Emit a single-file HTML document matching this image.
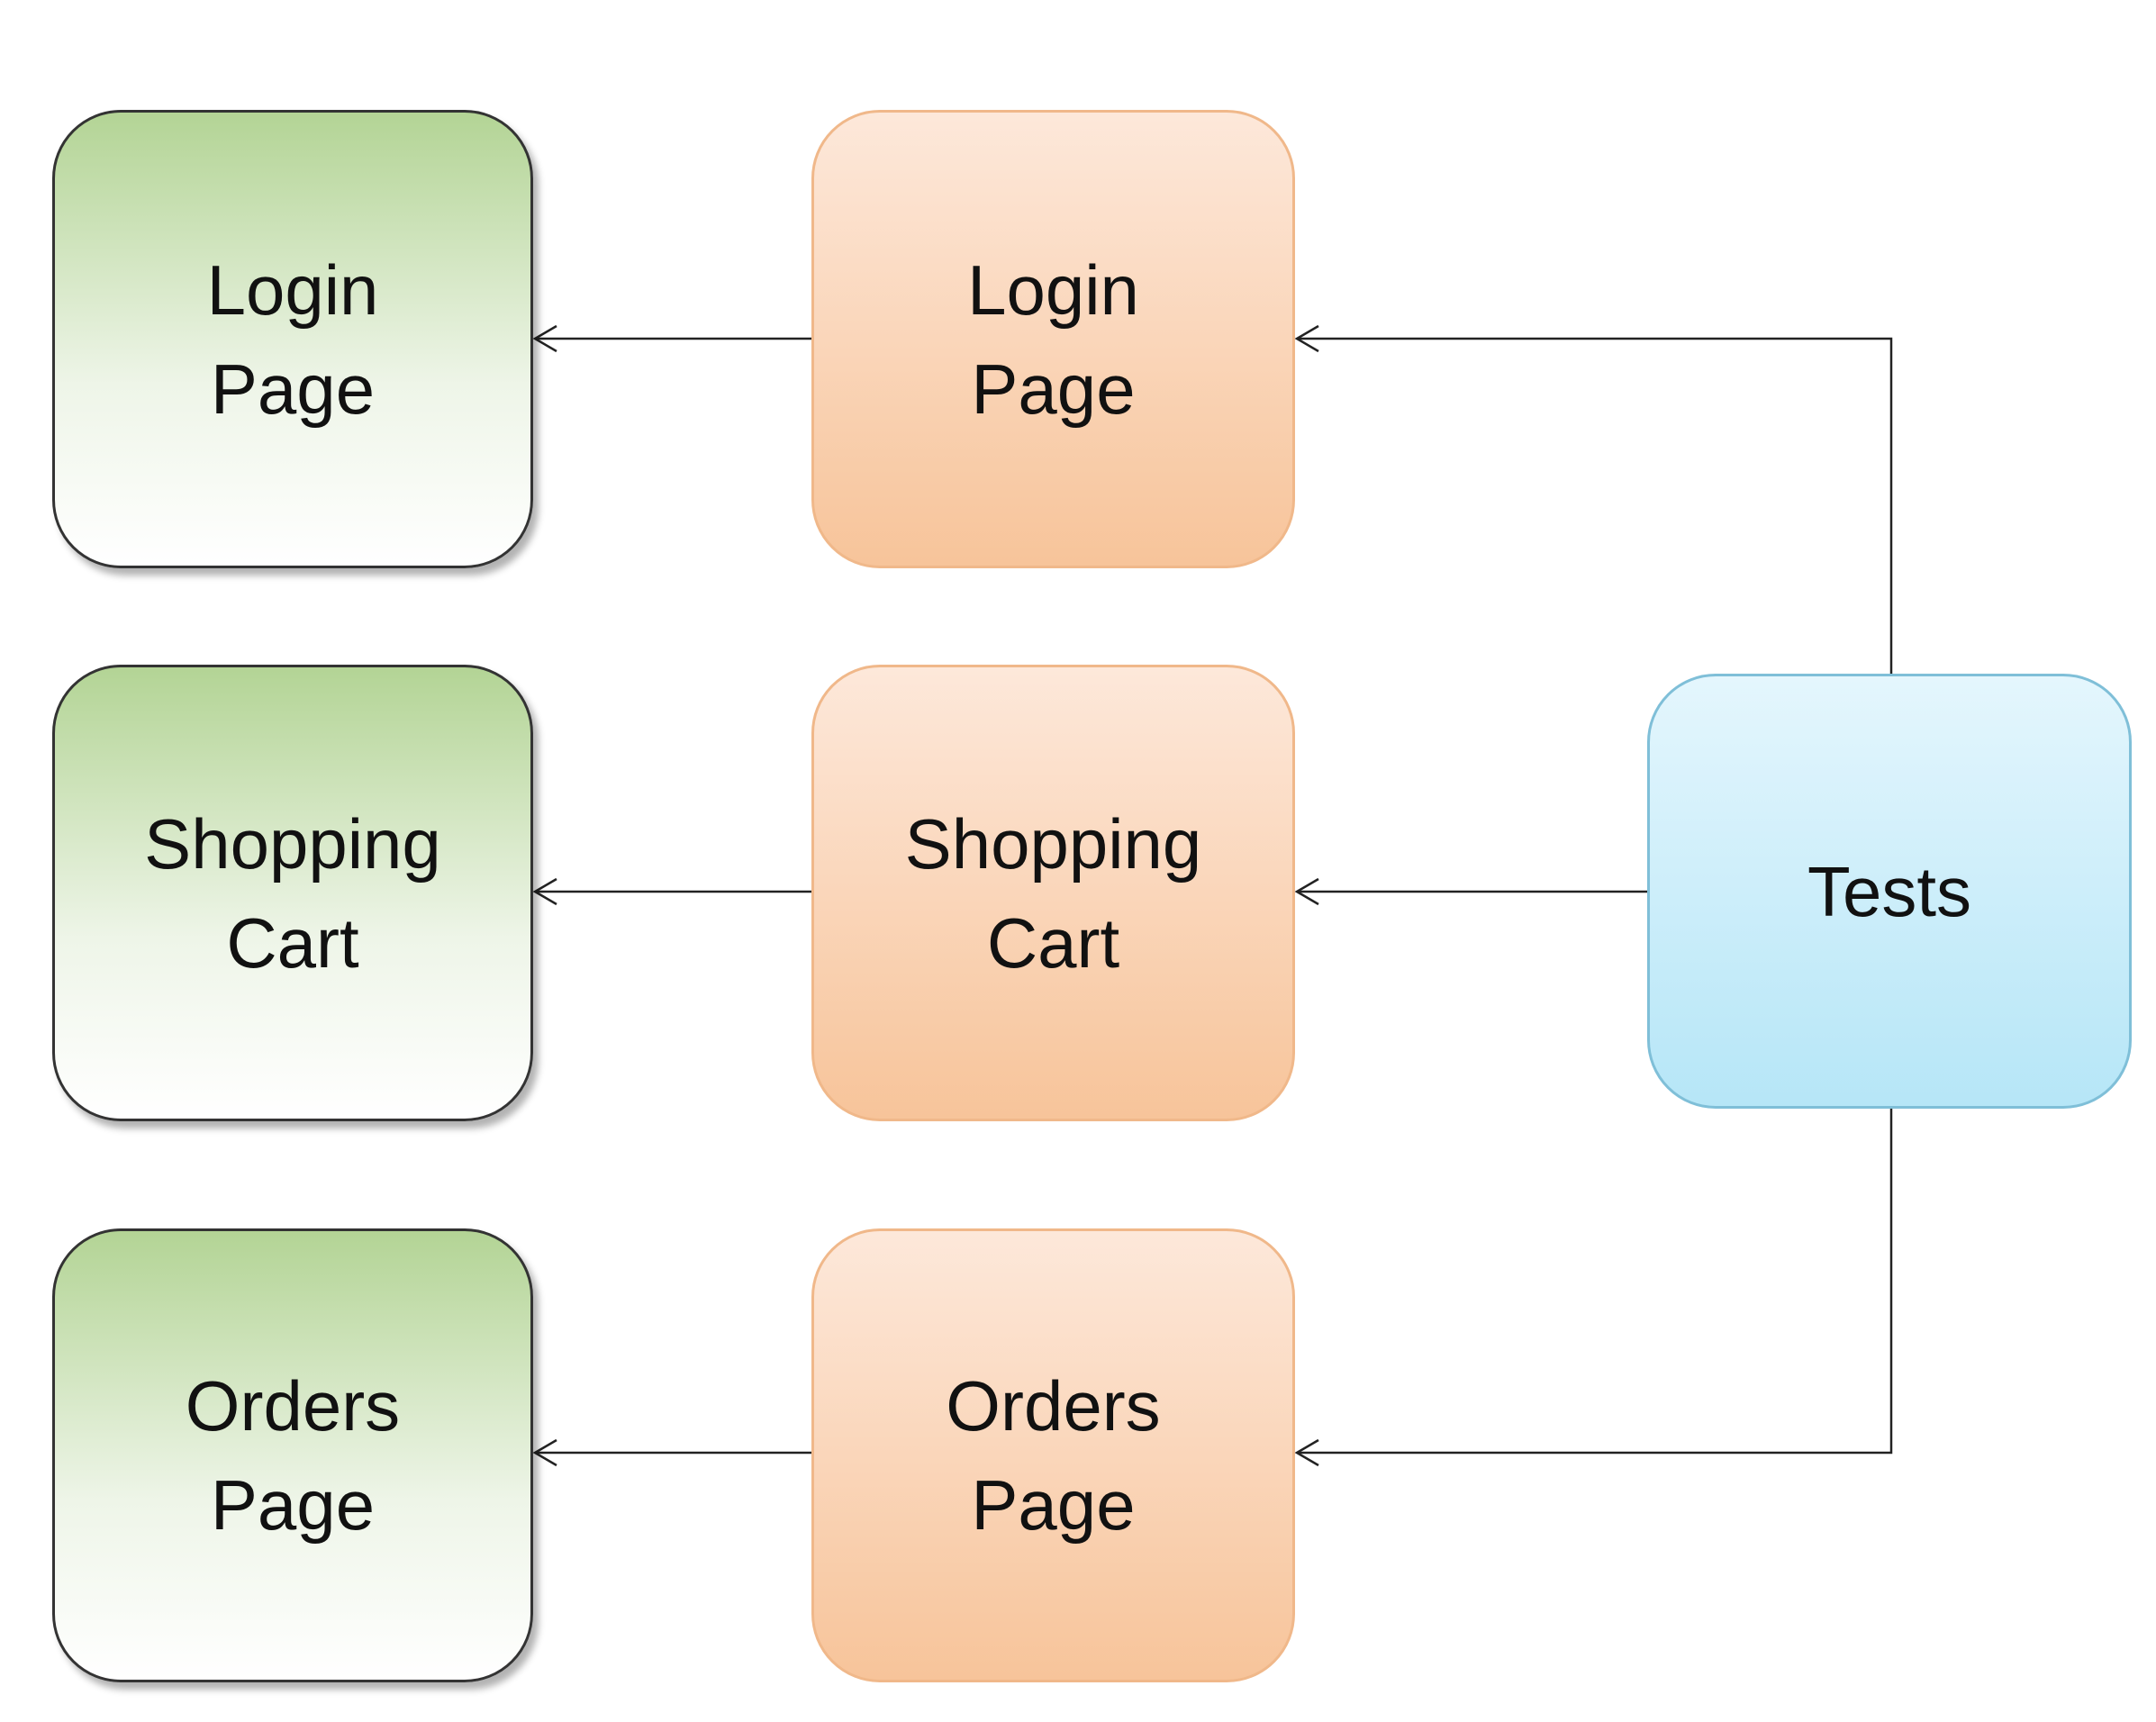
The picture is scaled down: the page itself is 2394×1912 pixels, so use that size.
<!DOCTYPE html>
<html><head><style>
body{margin:0;width:2394px;height:1912px;background:#fff;position:relative;overflow:hidden;font-family:"Liberation Sans",sans-serif;}
.b{position:absolute;border-radius:76px;display:flex;align-items:center;justify-content:center;text-align:center;font-size:78px;line-height:110px;color:#111;box-sizing:border-box;}
.g{left:58px;width:534px;border:3px solid #333;background:linear-gradient(#b3d495,#eef5e8 60%,#fff);box-shadow:6px 8px 8px rgba(0,0,0,.3);}
.o{left:901px;width:537px;border:3px solid #f0b88a;background:linear-gradient(#fde8da,#f7c49a);}
.t{left:1829px;top:748px;width:538px;height:483px;border:3px solid #7fbfd8;background:linear-gradient(#e4f6fd,#b6e6f7);}
</style></head><body>
<svg width="2394" height="1912" style="position:absolute;left:0;top:0">
<g stroke="#222" stroke-width="2.5" fill="none">
<path d="M901 376H594M901 990H594M901 1613H594"/>
<path d="M1829 990H1440M2100 748V376H1440M2100 1231V1613H1440"/>
<path d="M618 362L594 376L618 390M618 976L594 990L618 1004M618 1599L594 1613L618 1627"/>
<path d="M1464 362L1440 376L1464 390M1464 976L1440 990L1464 1004M1464 1599L1440 1613L1464 1627"/>
</g></svg>
<div class="b g" style="top:122px;height:509px">Login<br>Page</div>
<div class="b g" style="top:738px;height:507px">Shopping<br>Cart</div>
<div class="b g" style="top:1364px;height:504px">Orders<br>Page</div>
<div class="b o" style="top:122px;height:509px">Login<br>Page</div>
<div class="b o" style="top:738px;height:507px">Shopping<br>Cart</div>
<div class="b o" style="top:1364px;height:504px">Orders<br>Page</div>
<div class="b t">Tests</div>
</body></html>
